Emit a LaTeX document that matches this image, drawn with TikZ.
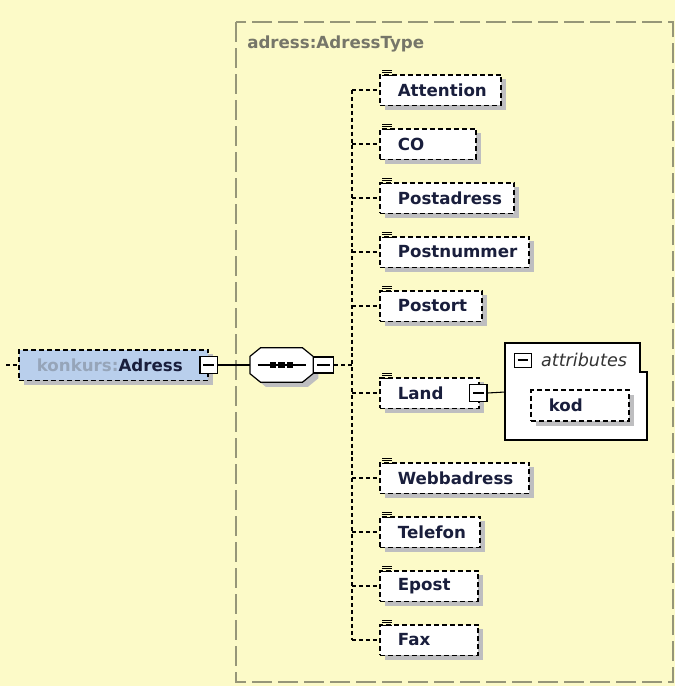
\documentclass[tikz,border=0pt]{standalone}
\usepackage{fontspec}
\setmainfont{DejaVu Sans}
\usetikzlibrary{positioning,shadows}
\definecolor{bgyellow}{RGB}{252,250,200}
\definecolor{framegray}{RGB}{150,150,120}
\definecolor{typegray}{RGB}{118,118,105}
\definecolor{elemblue}{RGB}{185,207,236}
\definecolor{prefixgray}{RGB}{150,165,185}
\definecolor{elemtext}{RGB}{25,30,60}
\definecolor{shadowgray}{RGB}{190,190,192}
\newcommand{\elemfont}{\fontsize{12.5}{14}\selectfont\bfseries}
\newcommand{\txticon}[1]{%
  \foreach \k in {0,1,2}
    \draw[line width=0.7pt] ([xshift=2.6pt,yshift={2.8pt-\k*2.1pt}]#1.north west) -- ++(7pt,0);}
% outline of the sequence compositor, #1 node, #2 extra shift
\newcommand{\seqoutline}[2]{%
  ([shift={#2},xshift=8pt]#1.north west) -- ([shift={#2},xshift=-8pt]#1.north east)
  -- ([shift={#2},yshift=-6.5pt]#1.north east) -- ([shift={#2},yshift=6.5pt]#1.south east)
  -- ([shift={#2},xshift=-8pt]#1.south east) -- ([shift={#2},xshift=8pt]#1.south west)
  -- ([shift={#2},yshift=6.5pt]#1.south west) -- ([shift={#2},yshift=-6.5pt]#1.north west) -- cycle}
\tikzset{
  elem/.style={draw, dashed, dash pattern=on 3.75pt off 2.25pt, line width=1.25pt,
               fill=white, anchor=west, minimum height=23pt, text width=#1,
               inner xsep=0pt, inner ysep=0pt, align=left, font=\elemfont, text=elemtext,
               drop shadow={shadow xshift=4pt, shadow yshift=-3.5pt, fill=shadowgray, opacity=1},
               execute at begin node={\hspace*{13.5pt}}},
  minusbox/.style={draw, solid, line width=0.9pt, fill=white, minimum width=13pt,
                   minimum height=13pt, inner sep=0pt,
                   path picture={\draw[line width=0.9pt]
                     ([xshift=2.5pt]path picture bounding box.west) --
                     ([xshift=-2.5pt]path picture bounding box.east);}},
  seqbox/.style={minimum width=47pt, minimum height=25.5pt, inner sep=0pt},
  attrbox/.style={draw, fill=white, line width=0.9pt},
  conn/.style={dashed, dash pattern=on 3pt off 2.2pt, line width=0.8pt},
  wire/.style={line width=0.8pt},
  frame/.style={draw=framegray, line width=1pt, dash pattern=on 15pt off 4.5pt}
}

\begin{document}
\begin{tikzpicture}[x=0.75pt,y=-0.75pt]
  \fill[bgyellow] (0,0) rectangle (675,686);
  \useasboundingbox (0,0) rectangle (675,686);
  % complex type frame
  \draw[frame] (236,22) rectangle (673,682);
  \node[anchor=west, font=\fontsize{12.5}{14}\selectfont\bfseries, text=typegray, inner sep=0pt]
    (typelbl) at (247,44) {adress:AdressType};
  % root element and sequence
  \node[elem=141.75pt, fill=elemblue] (adr) at (18,365) {\textcolor{prefixgray}{konkurs:}Adress};
  \node[minusbox] (adrmin) at (adr.east) {};
  \node[seqbox] (seq) at (281.5,365) {};
  \fill[shadowgray] \seqoutline{seq}{(4pt,-3.5pt)};
  \draw[line width=0.9pt, fill=white] \seqoutline{seq}{(0pt,0pt)};
  \draw[line width=0.9pt] ([xshift=-18pt]seq.center) -- ([xshift=18pt]seq.center);
  \foreach \d in {-6.4,0,6.4}
    \fill ([xshift=\d pt]seq.center) +(-2.5pt,-1.9pt) rectangle +(2.5pt,1.9pt);
  \node[minusbox, minimum width=15pt, minimum height=12pt, anchor=west] (seqmin) at (seq.east) {};
  % child elements
  \node[elem=90.75pt] (att) at (379,90) {Attention};
  \node[elem=72pt] (co) at (379,144) {CO};
  \node[elem=100.5pt] (padr) at (379,198) {Postadress};
  \node[elem=111.75pt] (pnr) at (379,252) {Postnummer};
  \node[elem=76.5pt] (port) at (379,306) {Postort};
  \node[elem=74.25pt] (land) at (379,393) {Land};
  \node[elem=111.75pt] (webb) at (379,478) {Webbadress};
  \node[elem=75pt] (tel) at (379,532) {Telefon};
  \node[elem=73.5pt] (epost) at (379,586) {Epost};
  \node[elem=73.5pt] (fax) at (379,640) {Fax};
  \foreach \n in {att,co,padr,pnr,port,land,webb,tel,epost,fax} {\txticon{\n}}
  \node[minusbox] (landmin) at ([xshift=-1pt]land.east) {};
  % attributes of Land
  \draw[attrbox] (505,343) -- (640,343) -- (640,372) -- (647,372) -- (647,440) -- (505,440) -- cycle;
  \coordinate (attrW) at (505,392);
  \node[minusbox, minimum width=13pt, minimum height=10.5pt, line width=0.7pt] (attmin) at (523,360) {};
  \node[right=6.5pt of attmin, inner sep=0pt, font=\fontsize{13.2}{15}\selectfont\itshape,
        text=black!80] (attlbl) {attributes};
  \node[elem=73.5pt] (kod) at (530,405.5) {kod};
  % connectors
  \coordinate (inlet) at (6,365);
  \coordinate (spine) at (352,365);
  \draw[conn] (inlet) -- (adr.west);
  \draw[wire] (adrmin.east) -- (seq.west);
  \draw[conn] (seqmin.east) -- (spine);
  \draw[conn] (spine |- att.west) -- (spine |- fax.west);
  \foreach \n in {att,co,padr,pnr,port,land,webb,tel,epost,fax}
    \draw[conn] (spine |- \n.west) -- (\n.west);
  \draw[wire] (landmin.east) -- (attrW);
\end{tikzpicture}
\end{document}
